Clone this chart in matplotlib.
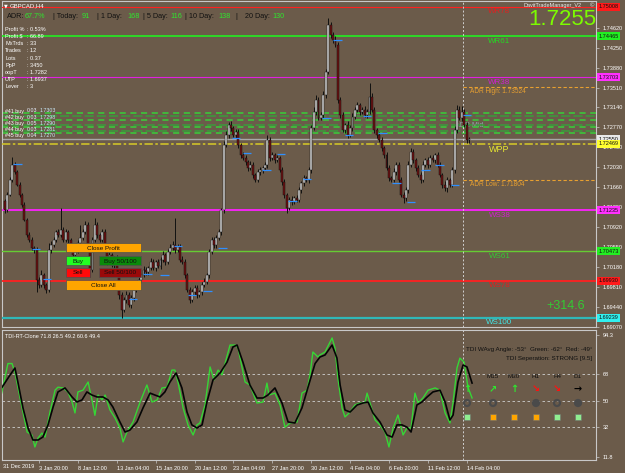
import matplotlib
matplotlib.use("Agg")
import matplotlib.pyplot as plt
import matplotlib.patches as mpatches
import matplotlib.transforms as mtransforms
import numpy as np

plt.rcParams["font.family"] = ["Liberation Sans", "DejaVu Sans"]

# ── Data ──────────────────────────────────────────────────────────────────────

FIRST_OPEN = 1.7140

CLOSES = [
    1.7124, 1.7152, 1.7180, 1.7208, 1.7195, 1.7171, 1.7152, 1.7134, 1.7106, 1.7078, 1.7069, 1.7054, 1.7050, 1.6995, 1.6985, 1.7004,
    1.6985, 1.6976, 1.7050, 1.7059, 1.7069, 1.7083, 1.7078, 1.7087, 1.7069, 1.7083, 1.7069, 1.7054, 1.7041, 1.7050, 1.7063, 1.7072,
    1.7083, 1.7096, 1.7059, 1.7013, 1.7069, 1.7096, 1.7078, 1.7069, 1.7083, 1.7050, 1.7028, 1.7041, 1.7022, 1.7035, 1.7009, 1.6967,
    1.6939, 1.6957, 1.6967, 1.6948, 1.6961, 1.6976, 1.6985, 1.6995, 1.7004, 1.7013, 1.7009, 1.7017, 1.7028, 1.7017, 1.7028, 1.7020,
    1.7032, 1.7041, 1.7028, 1.7046, 1.7054, 1.7059, 1.7050, 1.7056, 1.7032, 1.7028, 1.7004, 1.6976, 1.6957, 1.6972, 1.6980, 1.6967,
    1.6972, 1.6985, 1.6991, 1.7004, 1.7046, 1.7069, 1.7059, 1.7072, 1.7083, 1.7124, 1.7245, 1.7263, 1.7282, 1.7276, 1.7263, 1.7269,
    1.7245, 1.7226, 1.7220, 1.7213, 1.7202, 1.7208, 1.7189, 1.7180, 1.7195, 1.7198, 1.7202, 1.7208, 1.7254, 1.7220, 1.7226, 1.7217,
    1.7220, 1.7198, 1.7176, 1.7152, 1.7128, 1.7143, 1.7139, 1.7146, 1.7143, 1.7161, 1.7174, 1.7183, 1.7180, 1.7198, 1.7276, 1.7306,
    1.7328, 1.7295, 1.7300, 1.7337, 1.7380, 1.7467, 1.7448, 1.7439, 1.7430, 1.7328, 1.7300, 1.7272, 1.7282, 1.7263, 1.7276, 1.7297,
    1.7310, 1.7319, 1.7306, 1.7310, 1.7300, 1.7306, 1.7334, 1.7310, 1.7272, 1.7263, 1.7254, 1.7239, 1.7226, 1.7202, 1.7183, 1.7180,
    1.7195, 1.7208, 1.7180, 1.7152, 1.7146, 1.7161, 1.7208, 1.7232, 1.7217, 1.7202, 1.7189, 1.7180, 1.7208, 1.7217, 1.7208, 1.7220,
    1.7217, 1.7226, 1.7208, 1.7189, 1.7171, 1.7165, 1.7180, 1.7171, 1.7198, 1.7272, 1.7310, 1.7295, 1.7306, 1.7282, 1.7254, 1.7255,
]

# wick lengths in pips above/below the body
UPPER_WICK = [
    4, 6, 5, 15, 4, 3, 5, 3, 4, 3, 5, 4, 3, 6, 4, 8,
    3, 4, 12, 8, 5, 4, 6, 41, 5, 6, 4, 3, 4, 5, 6, 24,
    5, 8, 6, 4, 5, 13, 6, 4, 5, 6, 4, 5, 3, 4, 5, 4,
    4, 5, 6, 4, 5, 4, 6, 5, 4, 7, 5, 4, 6, 5, 4, 5,
    5, 6, 4, 5, 6, 8, 50, 5, 4, 6, 5, 4, 6, 5, 4, 5,
    4, 5, 6, 4, 6, 5, 4, 6, 5, 4, 6, 8, 5, 6, 4, 6,
    5, 4, 6, 5, 4, 6, 5, 4, 5, 6, 4, 5, 9, 5, 6, 4,
    5, 4, 6, 5, 4, 5, 6, 4, 5, 6, 4, 5, 4, 6, 6, 8,
    9, 5, 6, 8, 6, 13, 6, 5, 7, 5, 6, 5, 4, 6, 5, 6,
    5, 6, 4, 5, 6, 5, 26, 6, 5, 4, 6, 5, 4, 6, 5, 4,
    6, 5, 4, 5, 6, 5, 6, 7, 5, 4, 6, 5, 6, 4, 5, 6,
    5, 4, 6, 5, 4, 6, 5, 4, 6, 7, 9, 6, 10, 6, 5, 4,
]
LOWER_WICK = [
    5, 4, 3, 4, 5, 3, 4, 5, 3, 4, 5, 4, 6, 24, 5, 4,
    6, 6, 4, 5, 3, 4, 5, 4, 5, 4, 6, 5, 4, 3, 5, 4,
    4, 3, 5, 13, 4, 5, 6, 4, 5, 4, 6, 5, 4, 6, 5, 8,
    15, 5, 6, 4, 5, 6, 4, 5, 6, 4, 5, 6, 4, 5, 6, 4,
    5, 4, 6, 5, 4, 5, 6, 4, 5, 4, 6, 5, 6, 4, 5, 6,
    5, 6, 4, 5, 6, 4, 5, 6, 4, 6, 5, 4, 6, 5, 4, 5,
    6, 5, 4, 6, 5, 4, 6, 5, 4, 6, 5, 4, 6, 5, 4, 6,
    5, 4, 6, 5, 9, 5, 6, 4, 5, 4, 6, 5, 4, 6, 5, 4,
    6, 5, 4, 6, 5, 4, 6, 5, 4, 6, 5, 4, 6, 5, 4, 6,
    5, 4, 6, 5, 4, 6, 5, 4, 6, 5, 4, 6, 5, 4, 6, 5,
    4, 6, 5, 4, 9, 6, 5, 4, 6, 5, 4, 6, 5, 4, 6, 5,
    4, 6, 5, 4, 6, 5, 7, 5, 4, 6, 5, 4, 6, 5, 6, 5,
]

LEVEL_NAMES  = ["WR78", "WR61", "WR38", "WPP", "WS38", "WS61", "WS78", "WS100"]
LEVEL_PRICES = [1.75008, 1.74465, 1.73703, 1.72469, 1.71235, 1.70473, 1.69930, 1.69239]

ADR_HIGH = 1.73524
ADR_LOW  = 1.71804
BID      = 1.72550

ORDER_LINES = [1.73030, 1.72983, 1.72900, 1.72807, 1.72770, 1.72696, 1.72659]
ORDER_TAGS  = ["#41 buy", "#42 buy", "#43 buy", "#44 buy", "#45 buy"]
ORDER_LOTS  = ["0.03", "0.03", "0.05", "0.03", "0.04"]
ORDER_OPEN  = ["1.7303", "1.7298", "1.7290", "1.7281", "1.7270"]

MARK_BARS   = [3.3, 11.1, 15.6, 51.0, 56.8, 63.8, 69.5, 75.3, 81.5, 87.7, 93.4, 97.9, 105.8, 111.9,
               116.5, 122.6, 130.5, 135.0, 139.9, 147.3, 153.5, 159.3, 165.4, 171.2, 177.0, 183.5, 188.4]
MARK_PRICES = [1.7209, 1.7052, 1.6996, 1.6959, 1.7006, 1.7004, 1.7057, 1.6967, 1.6974, 1.7054, 1.7258, 1.7230, 1.7198, 1.7228,
               1.7141, 1.7182, 1.7295, 1.7439, 1.7263, 1.7298, 1.7267, 1.7174, 1.7139, 1.7198, 1.7208, 1.7171, 1.7300]

PRICE_TICKS = [1.69070, 1.69440, 1.69810, 1.70180, 1.70550, 1.70920, 1.71290, 1.71660,
               1.72030, 1.72400, 1.72770, 1.73140, 1.73510, 1.73880, 1.74250, 1.74620]

TIME_TICK_BARS = [14, 30, 46, 62, 78, 94, 110, 126, 142, 158, 174, 190]
TIME_LABELS = ["3 Jan 20:00", "8 Jan 12:00", "13 Jan 04:00", "15 Jan 20:00", "20 Jan 12:00",
               "23 Jan 04:00", "27 Jan 20:00", "30 Jan 12:00", "4 Feb 04:00", "6 Feb 20:00",
               "11 Feb 12:00", "14 Feb 04:00"]

GREEN_X = [-1.4, 1.2, 2.9, 4.1, 6.2, 9.1, 11.1, 12.3, 13.6, 15.2, 16.5, 18.5, 20.6, 21.8, 23.9, 25.9,
           27.6, 28.8, 30.0, 32.1, 34.2, 35.8, 36.2, 37.0, 38.3, 39.9, 41.2, 43.2, 45.3, 47.3, 48.6, 50.2,
           52.7, 55.6, 58.4, 60.5, 62.6, 64.6, 66.7, 68.7, 69.9, 71.2, 73.3, 75.3, 77.4, 79.0, 80.2, 82.3,
           84.4, 86.0, 87.7, 89.3, 92.6, 94.7, 95.9, 98.8, 100.8, 103.7, 106.2, 107.8, 108.6, 111.1, 113.2,
           115.2, 117.3, 120.2, 122.2, 124.3, 125.5, 126.7, 128.8, 129.6, 131.7, 134.6, 135.8, 137.0, 138.7,
           139.9, 142.0, 144.0, 146.1, 148.1, 149.0, 150.2, 152.3, 154.3, 156.4, 158.0, 159.7, 161.7, 163.8,
           165.4, 167.1, 168.7, 170.0, 172.0, 174.1, 177.0, 179.0, 181.1, 183.1, 184.4, 186.0, 187.2, 188.9,
           190.5, 192.2]
GREEN_V = [55, 75, 75, 69, 51.7, 28.7, 26.7, 18.6, 24.6, 28, 25.3, 42.2, 57, 59, 58.5, 55.8,
           49, 41.6, 55.8, 57, 62.5, 50.4, 47, 40, 53.7, 50.4, 53.7, 43.6, 38.2, 31.4, 22, 28.7,
           35.5, 49, 60.5, 49, 50.4, 58.5, 59, 70.6, 70.6, 62.5, 45, 33.5, 26.7, 33.5, 34.8, 47,
           72.7, 63.9, 70.6, 67.3, 87.5, 87.5, 85.5, 62.5, 60.5, 48.3, 49, 61.8, 53.7, 55, 47,
           32, 34.8, 35.5, 55, 57, 67.3, 82.8, 79.4, 80.8, 82.8, 92.3, 85.5, 65.2, 45,
           38.9, 42.2, 47, 48.3, 48.3, 55, 48.3, 36.8, 33.5, 28.7, 18.6, 31.4, 40.2, 26.7,
           31.4, 31.4, 55, 48.3, 51.7, 57, 58.5, 57, 41.6, 34.8, 49, 72, 78.7, 76,
           59, 51.7]

BLACK_X = [-1.2, 2.1, 4.1, 5.3, 7.4, 9.5, 11.5, 13.6, 15.6, 17.7, 19.8, 21.8, 24.7, 27.6, 29.6, 31.7,
           33.7, 35.8, 37.9, 40.3, 42.4, 44.4, 47.3, 49.4, 51.4, 54.3, 56.8, 59.7, 61.7, 63.8, 65.8, 67.9,
           70.4, 72.8, 74.9, 76.9, 79.0, 81.1, 83.1, 85.6, 88.5, 91.4, 93.8, 95.5, 97.9, 100.8, 103.7,
           106.2, 108.2, 111.1, 114.0, 116.5, 119.3, 122.2, 124.7, 127.6, 129.6, 131.7, 134.6, 136.6,
           137.9, 139.9, 142.0, 144.9, 147.3, 149.4, 151.4, 154.3, 157.2, 159.3, 161.3, 163.4, 165.4,
           167.1, 169.5, 171.6, 173.7, 176.1, 179.0, 181.1, 183.1, 184.4, 186.4, 188.5, 190.1, 192.2]
BLACK_V = [59, 67.3, 72, 62.5, 45, 31.4, 23.3, 23.3, 25.3, 33.5, 45.6, 55.8, 58.5, 52.4, 49, 50.4,
           55.8, 53.7, 52.4, 52.4, 50.4, 45.6, 35.5, 28.7, 30, 35.5, 45, 55, 53.7, 52.4, 55.8, 62.5,
           68.6, 58.5, 42.2, 33.5, 31.4, 33.5, 49, 63.9, 68.6, 76, 86.2, 87.5, 76, 60.5, 51.7,
           51.7, 53.7, 58.5, 48.3, 35.5, 34.8, 45, 59, 75, 79.4, 80.8, 87.5, 78.7,
           60.5, 43.6, 42.2, 47, 48.3, 49, 41.6, 35.5, 26.7, 25.3, 33.5, 33.5, 32,
           28.7, 47, 49, 52.4, 55.8, 57, 49, 36.8, 40.2, 62.5, 74, 72.7, 61.8]

TDI_LEVELS = [68, 50, 32]
TDI_TICKS  = [94.3, 68, 50, 32, 11.8]

TF_NAMES   = ["", "M15", "M30", "H1", "H4", "D1"]
TF_ARROWS  = ["↑", "↗", "↑", "↘", "↘", "→"]
TF_ACOLORS = ["#2ee82e", "#2ee82e", "#2ee82e", "#ff1010", "#ff1010", "#000000"]
TF_DOTS    = ["ring", "ring", "", "fill", "ring", "fill"]
TF_SQUARES = ["#90ee90", "#ffa500", "#ffa500", "#ffa500", "#90ee90", "#90ee90"]

STATS_KEYS = ["Profit %", "Profit $", "MxTrds", "Trades", "Lots", "PpP", "oopT", "UTP", "Lever"]
STATS_VALS = ["0.53%", "66.89", "33", "12", "0.37", "3450", "1.7282", "1.6937", "3"]

ADR_PARTS   = ["ADR:", "67.7%", "| Today:", "91", "| 1 Day:", "168", "| 5 Day:", "116",
               "| 10 Day:", "138", "|", "20 Day:", "130"]
ADR_IS_NUM  = [False, True, False, True, False, True, False, True, False, True, False, False, True]

# ── Style ─────────────────────────────────────────────────────────────────────

W, H = 625, 473
BG = "#6b5b4a"
FRAME = "#c8c8c8"
LEVEL_COLORS = ["#ff2020", "#22ee22", "#e020e0", "#cfc22a", "#ff20ff", "#66cc33", "#ff2020", "#30b8b8"]
LEVEL_TEXT   = ["#e02020", "#22dd22", "#d020d0", "#e8e830", "#d020d0", "#33cc33", "#e02020", "#40e8e8"]
LEVEL_WIDTH  = [0.8, 1.2, 0.8, 1.2, 1.3, 1.0, 1.3, 1.6]
ADR_COLOR = "#e8a030"
DAY_BAR = 188.6
ADR_X_PX = [7, 25, 53, 82, 97, 127, 143, 170, 185, 218, 235, 245, 272]
NUM_GREEN = "#2ee82e"
LBL_DARK = "#111111"


def ftext(x, y, s, **kw):
    kw.setdefault("va", "center")
    return fig.text(x / W, 1 - y / H, s, **kw)


def button(x0, y0, x1, y1, fc, label):
    fig.add_artist(mpatches.Rectangle((x0 / W, 1 - y1 / H), (x1 - x0) / W, (y1 - y0) / H,
                                      transform=fig.transFigure, facecolor=fc,
                                      edgecolor="#505050", linewidth=0.5, zorder=10))
    ftext((x0 + x1) / 2, (y0 + y1) / 2 + 0.5, label, ha="center", fontsize=4.6,
          color="#101010", zorder=11)


fig = plt.figure(figsize=(W / 100, H / 100), dpi=100, facecolor=BG)
ax = fig.add_axes([2 / W, 1 - 327 / H, 594 / W, 326 / H], facecolor=BG)
ax2 = fig.add_axes([2 / W, 1 - 460 / H, 594 / W, 130 / H], facecolor=BG)

XMIN, XMAX = -1.23, 243.2
for a in (ax, ax2):
    a.set_xlim(XMIN, XMAX)
    for sp in a.spines.values():
        sp.set_color(FRAME)
        sp.set_linewidth(0.8)
ax.set_ylim(1.69074, 1.75114)
ax2.set_ylim(9.78, 97.68)

# ── Candles ───────────────────────────────────────────────────────────────────

closes = np.array(CLOSES)
opens = np.r_[FIRST_OPEN, closes[:-1]]
highs = np.maximum(opens, closes) + np.array(UPPER_WICK) * 1e-4
lows = np.minimum(opens, closes) - np.array(LOWER_WICK) * 1e-4
idx = np.arange(len(closes))
bull = closes >= opens
body_lo = np.minimum(opens, closes)
body_h = np.maximum(np.abs(closes - opens), 0.00004)

ax.vlines(idx, lows, highs, color="#111111", linewidth=0.7, zorder=4)
ax.bar(idx[bull], body_h[bull], bottom=body_lo[bull], width=0.8, color="#d4d4d4",
       edgecolor="#1a1a1a", linewidth=0.35, zorder=5)
ax.bar(idx[~bull], body_h[~bull], bottom=body_lo[~bull], width=0.8, color="#6e1010",
       edgecolor="#111111", linewidth=0.35, zorder=5)

ax.hlines(MARK_PRICES, MARK_BARS, np.array(MARK_BARS) + 3.5, color="#2f8fff",
          linewidth=0.9, zorder=6)

# ── Horizontal levels ─────────────────────────────────────────────────────────

for k, p in enumerate(ORDER_LINES):
    ax.axhline(p, color="#38d038" if k % 2 == 0 else "#3c9a3c", linewidth=1.1,
               linestyle=(0, (4, 3)) if k % 2 == 0 else (2, (6, 2)), zorder=2)

ax.axhline(BID, color="#a8a8a8", linewidth=1.0, zorder=2)

label_tr = mtransforms.offset_copy(ax.transData, fig=fig, y=-1.5, units="dots")
for name, p, c, tc, lw in zip(LEVEL_NAMES, LEVEL_PRICES, LEVEL_COLORS, LEVEL_TEXT, LEVEL_WIDTH):
    ls = (0, (5, 1.5, 1.5, 1.5)) if name == "WPP" else "-"
    ax.axhline(p, color=c, linewidth=lw, linestyle=ls, zorder=3)
    ax.text(203.5, p, name, transform=label_tr, ha="center", va="top",
            fontsize=6.5 if name == "WPP" else 5.8, color=tc, zorder=7)

for p, txt in [(ADR_HIGH, "ADR High: %.5f" % ADR_HIGH), (ADR_LOW, "ADR Low: %.5f" % ADR_LOW)]:
    ax.hlines(p, DAY_BAR, XMAX, color=ADR_COLOR, linewidth=0.8, linestyle=(0, (3, 2)), zorder=3)
    ax.text(191.3, p, txt, transform=label_tr, ha="left", va="top", fontsize=4.7,
            color=ADR_COLOR, zorder=7)

ax.text(185, 1.72800, "ADR Mid", ha="left", va="center", fontsize=5, color="#8aa8a8", zorder=1)

for a in (ax, ax2):
    a.axvline(DAY_BAR, color="#d0d0d0", linewidth=0.7, linestyle=(0, (2, 2)), zorder=3)

# ── Price axis ────────────────────────────────────────────────────────────────

ax.yaxis.tick_right()
ax.set_yticks(PRICE_TICKS, ["%.5f" % t for t in PRICE_TICKS])
ax.tick_params(axis="y", colors=FRAME, labelcolor="white", labelsize=4, length=2, width=0.5, pad=3)
ax.set_xticks([])

box_specs = [(LEVEL_PRICES[0], "#ff1a1a"), (LEVEL_PRICES[1], "#22ee22"), (LEVEL_PRICES[2], "#ff30ff"),
             (BID, "#e8e8e8"), (LEVEL_PRICES[3], "#ffff30"), (LEVEL_PRICES[4], "#ff30ff"),
             (LEVEL_PRICES[5], "#22ee22"), (LEVEL_PRICES[6], "#ff1a1a"), (LEVEL_PRICES[7], "#30f0f0")]
for p, c in box_specs:
    ax.text(1.004, p, "%.5f" % p, transform=ax.get_yaxis_transform(), ha="left", va="center",
            fontsize=4, color="#101010", clip_on=False, zorder=8,
            bbox=dict(boxstyle="square,pad=0.25", facecolor=c, edgecolor="none"))

# ── TDI panel ─────────────────────────────────────────────────────────────────

for lv in TDI_LEVELS:
    ax2.axhline(lv, color="#cfcfcf", linewidth=0.6, linestyle=(0, (3, 3)), zorder=1)
ax2.plot(GREEN_X, GREEN_V, color="#36d636", linewidth=1.0, zorder=3)
ax2.plot(BLACK_X, BLACK_V, color="#050505", linewidth=1.2, zorder=4)

ax2.yaxis.tick_right()
ax2.set_yticks(TDI_TICKS, ["%g" % t for t in TDI_TICKS])
ax2.tick_params(axis="y", colors=FRAME, labelcolor="white", labelsize=4, length=2, width=0.5, pad=3)
ax2.set_xticks(TIME_TICK_BARS, TIME_LABELS)
ax2.tick_params(axis="x", colors=FRAME, labelcolor="white", labelsize=4, length=2.5, width=0.5, pad=1.5)
for lab in ax2.get_xticklabels():
    lab.set_ha("left")
ftext(3, 466, "31 Dec 2019", fontsize=4, color="white")

ftext(5, 336.5, "TDI-RT-Clone 71.8 26.5 49.2 60.6 49.4", fontsize=4, color="white")
ftext(592, 349, "TDI WAvg Angle: -53°  Green: -62°  Red: -49°", ha="right", fontsize=4.5,
      color="#101010")
ftext(592, 358.5, "TDI Seperation: STRONG [9.5]", ha="right", fontsize=4.5, color="#101010")

TF_X = [467, 493, 514, 536, 557, 578]
for x, name, arr, ac, dot, sq in zip(TF_X, TF_NAMES, TF_ARROWS, TF_ACOLORS, TF_DOTS, TF_SQUARES):
    if name:
        ftext(x, 376.5, name, ha="center", fontsize=4.5, color="#101010")
    ftext(x, 389, arr, ha="center", fontsize=7, color=ac, fontweight="bold",
          family="DejaVu Sans")
    if dot:
        filled = dot == "fill"
        fig.add_artist(mpatches.Ellipse((x / W, 1 - 403 / H), 6 / W, 6 / H,
                                        transform=fig.transFigure, zorder=12,
                                        facecolor="#4a4a4a" if filled else "none",
                                        edgecolor="#4a4a4a", linewidth=1.6))
    fig.add_artist(mpatches.Rectangle(((x - 3) / W, 1 - 420 / H), 6 / W, 6 / H,
                                      transform=fig.transFigure, facecolor=sq,
                                      edgecolor="#707070", linewidth=0.4))

# ── Overlay texts ─────────────────────────────────────────────────────────────

ftext(3.5, 6, "▼", fontsize=3.5, color="white", family="DejaVu Sans")
ftext(10, 6, "GBPCAD,H4", fontsize=4.3, color="white")

for txt, xp, is_num in zip(ADR_PARTS, ADR_X_PX, ADR_IS_NUM):
    ftext(xp, 16, txt, fontsize=5.2, color=NUM_GREEN if is_num else LBL_DARK)

for k, (key, val) in enumerate(zip(STATS_KEYS, STATS_VALS)):
    y = 29.3 + k * 7.2
    ftext(5, y, key, fontsize=4, color="white")
    ftext(27, y, ": " + val, fontsize=4, color="white")

ftext(524, 5.5, "DavitTradeManager_V2", fontsize=4, color="#e8e8e8")
ftext(592, 5.5, "©", fontsize=4.2, color="#e8e8e8", ha="center")
ftext(596, 19.5, "1.7255", ha="right", fontsize=16, color="#7cfc00")
ftext(585, 306, "+314.6", ha="right", fontsize=9, color="#33cc33")

# order comments drawn at the left end of the order lines
for k, (tag, lot, op) in enumerate(zip(ORDER_TAGS, ORDER_LOTS, ORDER_OPEN)):
    y = 111 + k * 6.2
    ftext(5, y, tag, fontsize=3.8, color="white", zorder=6)
    ftext(27, y, lot, fontsize=3.8, color="#e8f0ff", zorder=6)
    ftext(40, y, op, fontsize=3.8, color="#c8e8f8", zorder=6)

button(66, 243, 141, 252, "#ffa500", "Close Profit")
button(66, 256, 90, 265, "#22ff22", "Buy")
button(99, 256, 141, 265, "#0a8a0a", "Buy 50/100")
button(66, 268, 90, 277, "#ff0a0a", "Sell")
button(99, 268, 141, 277, "#9a0a0a", "Sell 50/100")
button(66, 280, 141, 290, "#ffa500", "Close All")

fig.savefig("out.png", dpi=100, facecolor=BG)
